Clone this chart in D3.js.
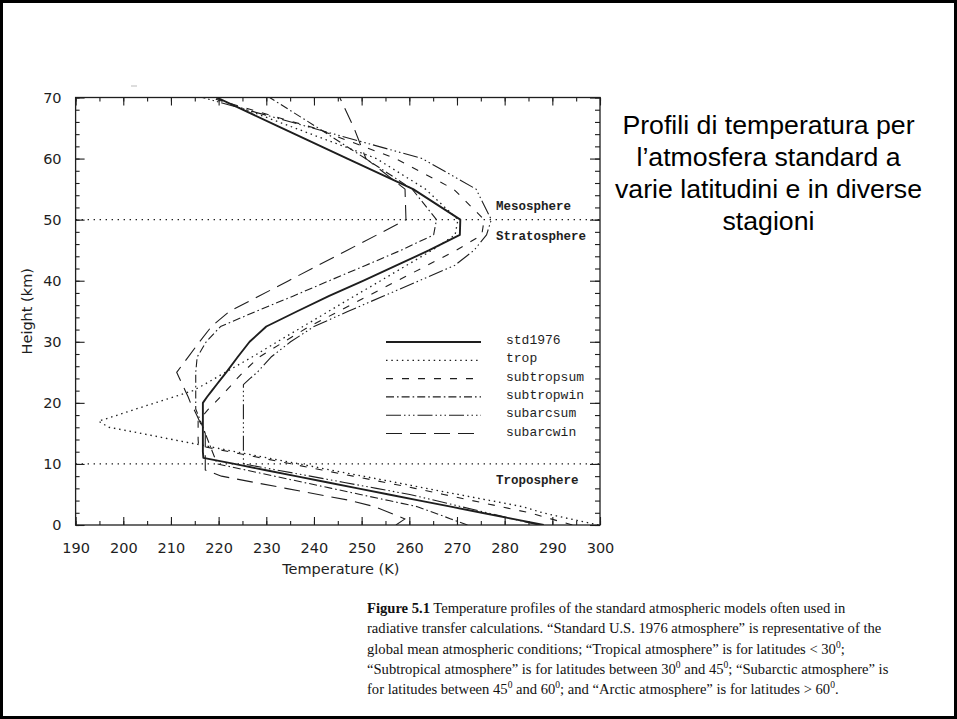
<!DOCTYPE html>
<html>
<head>
<meta charset="utf-8">
<script src="https://cdn.jsdelivr.net/npm/d3@7"></script>
<style>
  html, body { margin: 0; padding: 0; background: #fff; }
  svg { display: block; }
</style>
</head>
<body>
<svg id="chart" width="957" height="719"></svg>
<script>
// altitudes (km) shared by every profile
const altitudes = [0,1,2,3,4,5,6,7,8,9,10,11,12,13,14,15,16,17,18,19,20,21,22,23,24,25,
  27.5,30,32.5,35,37.5,40,42.5,45,47.5,50,55,60,65,70];

// temperatures (K)
const std1976 = [288.2,281.7,275.2,268.7,262.2,255.7,249.2,242.7,236.2,229.7,223.3,216.8,216.7,216.7,216.7,216.7,216.7,216.7,216.7,216.7,216.7,217.6,218.6,219.6,220.6,221.6,
  224.0,226.5,230.0,236.5,243.2,250.4,257.3,264.2,270.6,270.7,260.8,247.0,233.3,219.6];
const trop = [299.7,293.7,288.0,283.7,277.0,270.3,263.6,257.0,250.3,243.6,237.0,230.1,223.6,217.0,210.3,203.7,197.0,194.8,198.8,202.7,206.7,210.7,214.6,217.0,219.2,221.4,
  227.0,232.3,237.7,243.1,248.5,254.0,259.4,264.8,269.6,270.2,263.4,253.1,236.0,218.9];
const subtropsum = [294.2,289.7,285.2,279.2,273.2,267.2,261.2,254.7,248.2,241.7,235.3,228.8,222.3,215.8,215.7,215.7,215.7,215.7,216.8,217.9,219.2,220.4,221.6,222.8,223.9,225.1,
  228.5,233.7,239.0,245.2,251.3,257.5,263.7,269.9,275.2,275.7,269.3,257.1,240.1,218.1];
const subtropwin = [272.2,268.7,265.2,261.7,255.7,249.7,243.7,237.7,231.7,225.7,219.7,219.2,218.7,218.2,217.7,217.2,216.7,216.2,215.7,215.2,215.2,215.2,215.2,215.2,215.2,215.2,
  215.5,217.4,220.4,227.9,235.7,243.2,250.8,258.3,265.1,265.7,260.6,250.8,240.9,230.7];
const subarcsum = [287.2,281.7,276.3,270.9,265.5,260.1,253.1,246.1,239.2,232.2,225.2,225.2,225.2,225.2,225.2,225.2,225.2,225.2,225.2,225.2,225.2,225.2,225.2,225.2,226.6,228.1,
  231.0,235.1,240.0,247.2,254.6,262.1,269.5,273.6,276.2,277.2,274.0,262.7,239.7,216.6];
const subarcwin = [257.2,259.1,255.9,252.7,247.7,240.9,234.1,227.3,220.6,217.2,217.2,217.2,217.2,217.2,217.2,217.2,216.6,216.0,215.4,214.8,214.1,213.6,213.0,212.4,211.8,211.2,
  213.6,216.0,218.5,222.3,228.5,234.7,240.8,247.0,253.2,259.3,259.1,250.9,248.4,245.4];

const seriesNames = ['std1976', 'trop', 'subtropsum', 'subtropwin', 'subarcsum', 'subarcwin'];
const xTicks = [190,200,210,220,230,240,250,260,270,280,290,300];
const yTicks = [0,10,20,30,40,50,60,70];
const layerHeights = [10, 50];

const titleLines = ['Profili di temperatura per', 'l\u2019atmosfera standard a', 'varie latitudini e in diverse', 'stagioni'];

const svg = d3.select('#chart');
const ink = '#1e1e1e';

// page frame
svg.append('rect').attr('x', 1.5).attr('y', 1.5).attr('width', 954).attr('height', 716)
  .attr('fill', 'none').attr('stroke', '#000').attr('stroke-width', 3);

const m = { l: 75.6, r: 600, t: 97.5, b: 525 };
const x = d3.scaleLinear().domain([190, 300]).range([m.l, m.r]);
const y = d3.scaleLinear().domain([0, 70]).range([m.b, m.t]);

const plot = svg.append('g');

svg.append('clipPath').attr('id', 'clip')
  .append('rect').attr('x', m.l).attr('y', m.t).attr('width', m.r - m.l).attr('height', m.b - m.t);

// axes with inward ticks
const tickStyle = g => {
  g.select('.domain').remove();
  g.selectAll('line').attr('stroke', ink).attr('stroke-width', 1.1);
  g.selectAll('text').attr('fill', ink).style('font-family', 'DejaVu Sans').style('font-size', '14.5px');
};
const minorX = d3.range(190, 301, 5);
const minorY = d3.range(0, 71, 2);

plot.append('g').attr('transform', `translate(0,${m.b})`)
  .call(d3.axisBottom(x).tickValues(minorX).tickSize(-4).tickFormat('')).call(tickStyle);
plot.append('g').attr('transform', `translate(0,${m.b})`)
  .call(d3.axisBottom(x).tickValues(xTicks).tickSize(-8).tickPadding(18).tickFormat(d3.format('d'))).call(tickStyle);
plot.append('g').attr('transform', `translate(0,${m.t})`)
  .call(d3.axisTop(x).tickValues(minorX).tickSize(-4).tickFormat('')).call(tickStyle);
plot.append('g').attr('transform', `translate(0,${m.t})`)
  .call(d3.axisTop(x).tickValues(xTicks).tickSize(-8).tickFormat('')).call(tickStyle);
plot.append('g').attr('transform', `translate(${m.l},0)`)
  .call(d3.axisLeft(y).tickValues(minorY).tickSize(-4).tickFormat('')).call(tickStyle);
plot.append('g').attr('transform', `translate(${m.l},0)`)
  .call(d3.axisLeft(y).tickValues(yTicks).tickSize(-9).tickPadding(14).tickFormat(d3.format('d'))).call(tickStyle);
plot.append('g').attr('transform', `translate(${m.r},0)`)
  .call(d3.axisRight(y).tickValues(minorY).tickSize(-5).tickFormat('')).call(tickStyle);
plot.append('g').attr('transform', `translate(${m.r},0)`)
  .call(d3.axisRight(y).tickValues(yTicks).tickSize(-10).tickFormat('')).call(tickStyle);

plot.append('rect').attr('x', m.l).attr('y', m.t).attr('width', m.r - m.l).attr('height', m.b - m.t)
  .attr('fill', 'none').attr('stroke', ink).attr('stroke-width', 1.3);

// axis titles
svg.append('text').attr('x', (m.l + m.r) / 2 + 3).attr('y', m.b + 49).attr('text-anchor', 'middle')
  .attr('fill', ink).style('font-family', 'DejaVu Sans').style('font-size', '14.5px').text('Temperature (K)');
svg.append('text').attr('transform', `translate(32,${(m.t + m.b) / 2}) rotate(-90)`).attr('text-anchor', 'middle')
  .attr('fill', ink).style('font-family', 'DejaVu Sans').style('font-size', '14.5px').text('Height (km)');

// layer boundaries
plot.selectAll('.layer').data(layerHeights).join('line')
  .attr('x1', m.l).attr('x2', m.r).attr('y1', d => y(d)).attr('y2', d => y(d))
  .attr('stroke', ink).attr('stroke-width', 1.3).attr('stroke-dasharray', '1.4,4.6');

const layerText = [
  { t: 'Mesosphere', h: 50, dy: -10 },
  { t: 'Stratosphere', h: 50, dy: 20 },
  { t: 'Troposphere', h: 10, dy: 20 }
];
plot.selectAll('.ltxt').data(layerText).join('text')
  .attr('x', 496).attr('y', d => y(d.h) + d.dy)
  .attr('fill', ink).style('font-family', 'Liberation Mono').style('font-size', '12.5px').style('font-weight', 'bold')
  .text(d => d.t);

// profiles
const styles = {
  std1976: { dash: null, w: 1.9 },
  trop: { dash: '1.5,3.8', w: 1.3 },
  subtropsum: { dash: '7,9', w: 1.1 },
  subtropwin: { dash: '8,3,1.6,3', w: 1.1 },
  subarcsum: { dash: '15,3,1.5,3,1.5,3,1.5,3', w: 1.1 },
  subarcwin: { dash: '16,8', w: 1.1 }
};
const temps = { std1976, trop, subtropsum, subtropwin, subarcsum, subarcwin };

const line = d3.line().x(d => x(d[0])).y(d => y(d[1]));
const profiles = plot.append('g').attr('clip-path', 'url(#clip)');
seriesNames.forEach(name => {
  const pts = temps[name].map((t, i) => [t, altitudes[i]]);
  profiles.append('path').datum(pts).attr('d', line)
    .attr('fill', 'none').attr('stroke', ink).attr('stroke-width', styles[name].w)
    .attr('stroke-dasharray', styles[name].dash).attr('stroke-linejoin', 'round');
});

// legend
const lg = plot.append('g');
seriesNames.forEach((name, i) => {
  const ly = 342 + i * 18.3;
  lg.append('line').attr('x1', 386).attr('x2', 481).attr('y1', ly).attr('y2', ly)
    .attr('stroke', ink).attr('stroke-width', styles[name].w).attr('stroke-dasharray', styles[name].dash);
  lg.append('text').attr('x', 506).attr('y', ly + 2).attr('fill', ink)
    .style('font-family', 'Liberation Mono').style('font-size', '13px').text(name);
});

// title on the right
svg.append('g').selectAll('text').data(titleLines).join('text')
  .attr('x', 768.5).attr('y', (d, i) => 134 + i * 32).attr('text-anchor', 'middle')
  .attr('fill', '#000').style('font-family', 'Liberation Sans').style('font-size', '26.7px')
  .text(d => d);

// caption
const cap = svg.append('g').attr('fill', '#111').style('font-family', 'Liberation Serif').style('font-size', '14.6px');
const capX = 367, capY = 613, capStep = 20.3;
const sup = (el, s) => el.append('tspan').attr('dy', -6).style('font-size', '9.5px').text(s);
const base = (el, s) => el.append('tspan').attr('dy', 6).text(s);

let t0 = cap.append('text').attr('x', capX).attr('y', capY);
t0.append('tspan').style('font-weight', 'bold').text('Figure 5.1');
t0.append('tspan').text(' Temperature profiles of the standard atmospheric models often used in');

cap.append('text').attr('x', capX).attr('y', capY + capStep)
  .text('radiative transfer calculations. \u201cStandard U.S. 1976 atmosphere\u201d is representative of the');

let t2 = cap.append('text').attr('x', capX).attr('y', capY + capStep * 2);
t2.append('tspan').text('global mean atmospheric conditions; \u201cTropical atmosphere\u201d is for latitudes < 30');
sup(t2, '0'); base(t2, ';');

let t3 = cap.append('text').attr('x', capX).attr('y', capY + capStep * 3);
t3.append('tspan').text('\u201cSubtropical atmosphere\u201d is for latitudes between 30');
sup(t3, '0'); base(t3, ' and 45'); sup(t3, '0'); base(t3, '; \u201cSubarctic atmosphere\u201d is');

let t4 = cap.append('text').attr('x', capX).attr('y', capY + capStep * 4);
t4.append('tspan').text('for latitudes between 45');
sup(t4, '0'); base(t4, ' and 60'); sup(t4, '0'); base(t4, '; and \u201cArctic atmosphere\u201d is for latitudes > 60');
sup(t4, '0'); base(t4, '.');

// small scan mark above the frame
svg.append('line').attr('x1', 131).attr('x2', 137).attr('y1', 86).attr('y2', 86)
  .attr('stroke', '#bbb').attr('stroke-width', 1);
</script>
</body>
</html>
